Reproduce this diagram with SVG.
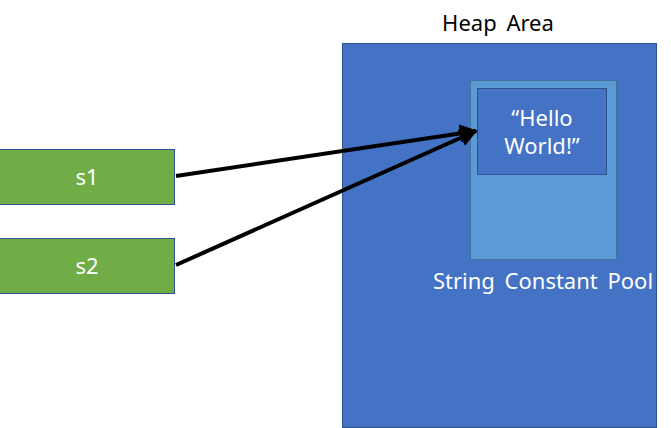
<svg xmlns="http://www.w3.org/2000/svg" width="671" height="428" viewBox="0 0 671 428">
<style>
text{font-family:"Noto Sans","Noto Sans CJK KR",sans-serif;font-size:22px;text-anchor:middle}
.w{fill:#ffffff}
.k{fill:#000000}
.var{fill:#70ad47;stroke:#2f528f;stroke-width:1}
.blue{fill:#4472c4;stroke:#2f528f;stroke-width:1}
.light{fill:#5b9bd5;stroke:#41719c;stroke-width:1}
.conn{stroke:#000;stroke-width:4;fill:none}
</style>
<defs>
<marker id="ah" viewBox="0 0 10 10" refX="9" refY="5" markerWidth="4.5" markerHeight="4.5" orient="auto" markerUnits="strokeWidth">
<path d="M0,0 L10,5 L0,10 z" fill="#000"/>
</marker>
</defs>
<g id="heap">
<rect class="blue" x="342.5" y="43.5" width="314" height="384"/>
<text class="k" x="498" y="31" word-spacing="4">Heap Area</text>
</g>
<g id="pool">
<rect class="light" x="470.5" y="80.5" width="146" height="179"/>
<text class="w" x="543" y="289" word-spacing="4">String Constant Pool</text>
</g>
<g id="hello">
<rect class="blue" x="477.5" y="88.5" width="129" height="86"/>
<text class="w" x="542" y="126">“Hello</text>
<text class="w" x="542" y="154">World!”</text>
</g>
<g id="s1">
<rect class="var" x="-0.5" y="149.5" width="175" height="55"/>
<text class="w" x="87" y="185">s1</text>
</g>
<g id="s2">
<rect class="var" x="-0.5" y="238.5" width="175" height="55"/>
<text class="w" x="87" y="274">s2</text>
</g>
<g id="connectors">
<line class="conn" x1="176" y1="176" x2="476" y2="131" marker-end="url(#ah)"/>
<line class="conn" x1="176" y1="265" x2="476" y2="131" marker-end="url(#ah)"/>
</g>
</svg>
